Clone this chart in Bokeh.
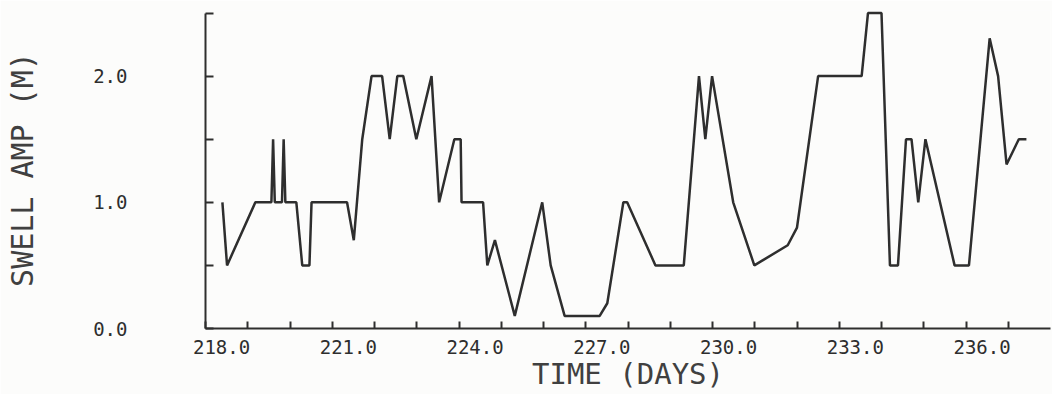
from bokeh.plotting import figure
from bokeh.models import Range1d, LinearAxis, FixedTicker, PrintfTickFormatter
from bokeh.embed import file_html
from bokeh.resources import INLINE

# ---- data ----
days = [218.40, 218.51, 219.18, 219.56, 219.60, 219.64, 219.81, 219.85, 219.89, 220.15,
        220.29, 220.46, 220.51, 221.35, 221.51, 221.71, 221.93, 222.18, 222.36, 222.54,
        222.68, 222.99, 223.35, 223.53, 223.89, 224.04, 224.06, 224.57, 224.67, 224.85,
        225.32, 225.97, 226.17, 226.50, 227.33, 227.51, 227.89, 227.98, 228.65, 229.32,
        229.68, 229.83, 229.99, 230.49, 230.99, 231.78, 232.00, 232.50, 233.53, 233.68,
        234.00, 234.20, 234.39, 234.58, 234.71, 234.87, 235.04, 235.73, 236.07, 236.56,
        236.76, 236.96, 237.25, 237.43]
swell_amp = [1.0, 0.5, 1.0, 1.0, 1.5, 1.0, 1.0, 1.5, 1.0, 1.0,
             0.5, 0.5, 1.0, 1.0, 0.7, 1.5, 2.0, 2.0, 1.5, 2.0,
             2.0, 1.5, 2.0, 1.0, 1.5, 1.5, 1.0, 1.0, 0.5, 0.7,
             0.1, 1.0, 0.5, 0.1, 0.1, 0.2, 1.0, 1.0, 0.5, 0.5,
             2.0, 1.5, 2.0, 1.0, 0.5, 0.66, 0.8, 2.0, 2.0, 2.5,
             2.5, 0.5, 0.5, 1.5, 1.5, 1.0, 1.5, 0.5, 0.5, 2.3,
             2.0, 1.3, 1.5, 1.5]

x_label_ticks = [218, 221, 224, 227, 230, 233, 236]
x_minor_ticks = list(range(218, 238))
y_label_ticks = [0.0, 1.0, 2.0]
y_minor_ticks = [0.5, 1.5, 2.5]
x_title = "TIME (DAYS)"
y_title = "SWELL AMP (M)"

ink = "#2e2e2e"
title_ink = "#404040"
bg = "#fcfcfb"
mono = "DejaVu Sans Mono"

p = figure(width=1052, height=394, output_backend="svg", toolbar_location=None,
           x_range=Range1d(218, 238), y_range=Range1d(0, 2.52),
           min_border_left=205, min_border_right=2, min_border_top=10, min_border_bottom=66,
           background_fill_color=bg, border_fill_color=bg, outline_line_color=None)
p.grid.visible = False

p.line(days, swell_amp, line_color=ink, line_width=2.5)

# bottom axis: tick marks only (ticks point inward)
xa = p.xaxis[0]
xa.ticker = FixedTicker(ticks=x_minor_ticks)
xa.major_label_overrides = {t: "" for t in x_minor_ticks}
xa.major_label_standoff = 0
xa.major_tick_in = 7
xa.major_tick_out = 0
xa.minor_tick_line_color = None
xa.axis_line_width = 2
xa.axis_line_color = ink
xa.major_tick_line_width = 2
xa.major_tick_line_color = ink

# tick labels, set slightly to the right of their ticks as in the original plot
p.extra_x_ranges = {"lab": Range1d(217.62, 237.62)}
la = LinearAxis(x_range_name="lab", ticker=FixedTicker(ticks=x_label_ticks),
                formatter=PrintfTickFormatter(format="%.1f"),
                axis_line_color=None, major_tick_line_color=None, minor_tick_line_color=None,
                major_tick_in=0, major_tick_out=0, major_label_standoff=11,
                major_label_text_font=mono, major_label_text_font_size="19px",
                major_label_text_color=ink,
                axis_label=x_title, axis_label_standoff=0,
                axis_label_text_font=mono, axis_label_text_font_size="29px",
                axis_label_text_font_style="normal", axis_label_text_color=title_ink)
p.add_layout(la, "below")

# left axis
ya = p.yaxis[0]
ya.ticker = FixedTicker(ticks=y_label_ticks, minor_ticks=y_minor_ticks)
ya.formatter = PrintfTickFormatter(format="%.1f")
ya.bounds = (0, 2.5)
ya.major_tick_in = 8
ya.major_tick_out = 0
ya.minor_tick_in = 8
ya.minor_tick_out = 0
ya.minor_tick_line_width = 2
ya.minor_tick_line_color = ink
ya.major_tick_line_width = 2
ya.major_tick_line_color = ink
ya.axis_line_width = 2
ya.axis_line_color = ink
ya.major_label_standoff = 78
ya.major_label_text_font = mono
ya.major_label_text_font_size = "19px"
ya.major_label_text_color = ink
ya.axis_label = y_title
ya.axis_label_text_font = mono
ya.axis_label_text_font_size = "30px"
ya.axis_label_text_font_style = "normal"
ya.axis_label_text_color = title_ink
ya.axis_label_standoff = 50

open("out.html", "w").write(file_html(p, INLINE))
